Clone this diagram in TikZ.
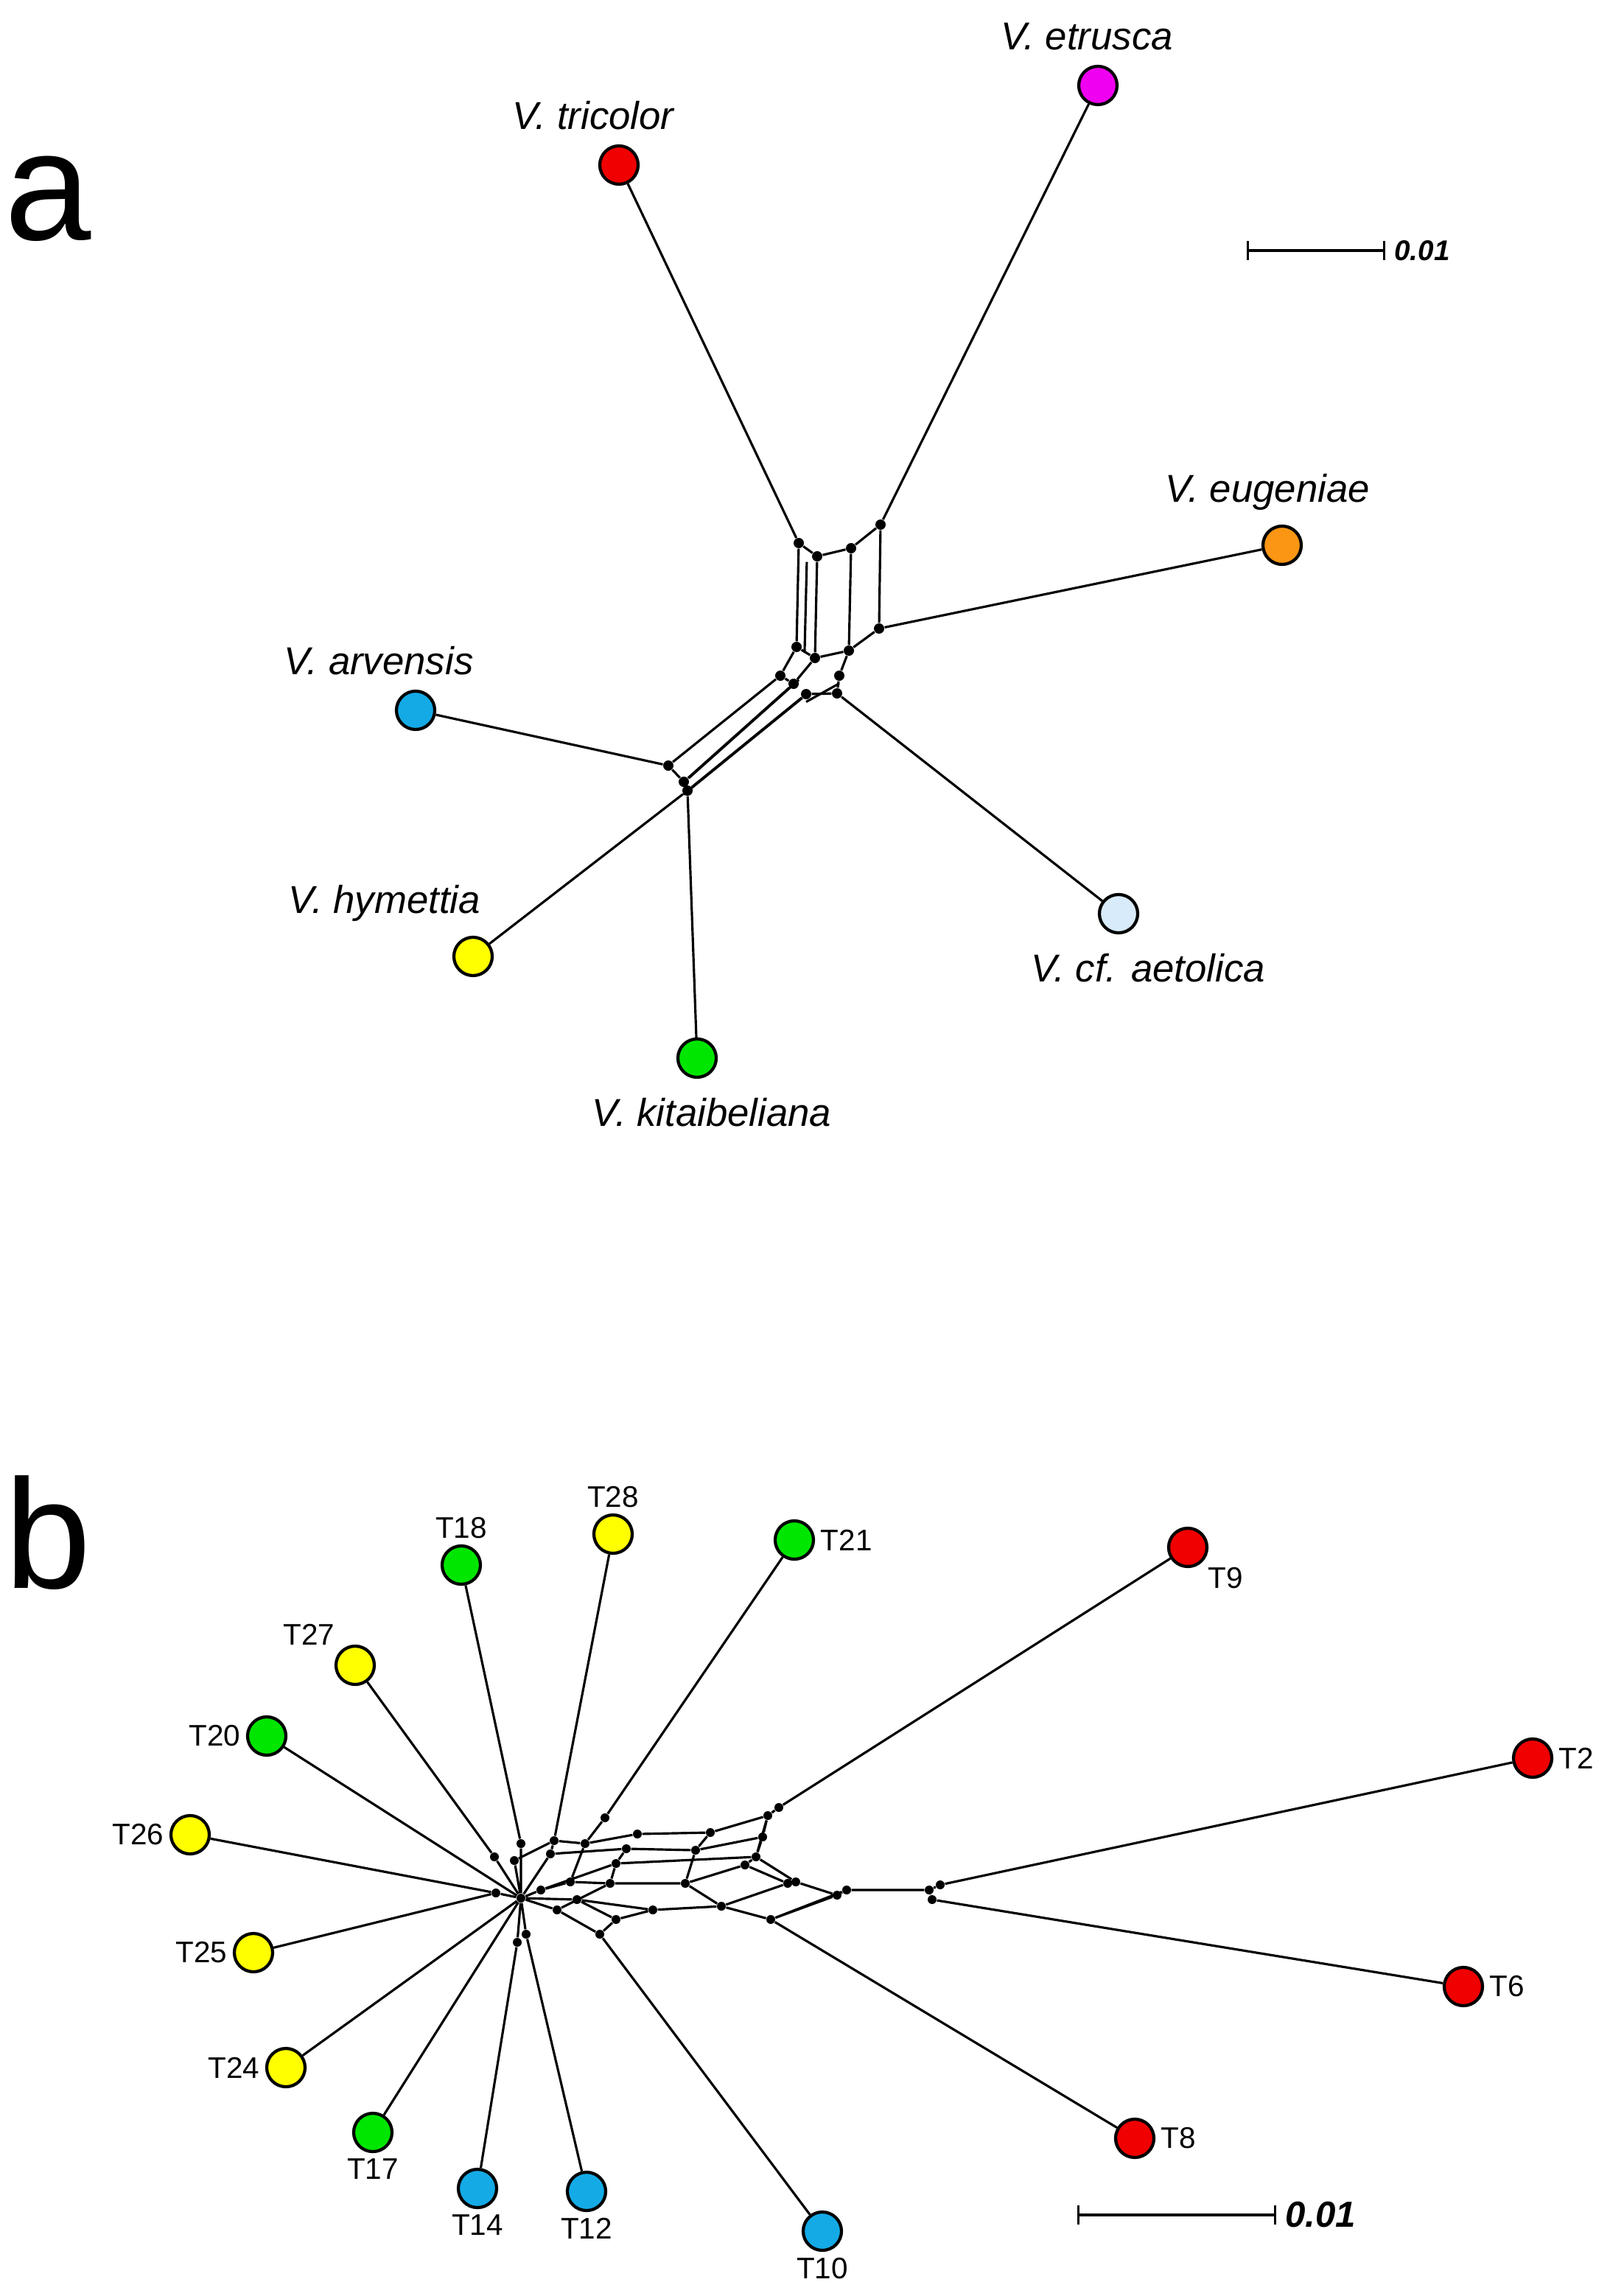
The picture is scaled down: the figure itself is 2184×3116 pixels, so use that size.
\documentclass[tikz,border=0pt]{standalone}
\usepackage{fontspec}
\setmainfont{Liberation Sans}
\usetikzlibrary{positioning}
\begin{document}
\begin{tikzpicture}
[
x=0.01cm,y=-0.01cm,
taxon/.style 2 args={draw,circle,line width=1.2pt,minimum size=0.52cm,inner sep=0pt,fill=#1,label={#2}},
dot/.style={circle,fill=black,inner sep=0pt,minimum size=0.14cm},
species/.style={font=\fontsize{15}{17}\selectfont\itshape},
tag/.style={font=\fontsize{11.5}{13}\selectfont},
edge/.style={line width=0.9pt},
]
\useasboundingbox (0,0) rectangle (2184,3116);
\definecolor{tred}{RGB}{240,0,0}
\definecolor{tmag}{RGB}{240,0,240}
\definecolor{torg}{RGB}{250,150,20}
\definecolor{tblue}{RGB}{20,170,230}
\definecolor{tpale}{RGB}{215,235,250}
\definecolor{tyel}{RGB}{255,255,0}
\definecolor{tgrn}{RGB}{0,230,0}

%Panel a
\node[font=\fontsize{60}{60}\selectfont] (pa) at (65,270) {a};
\node[taxon={tred}{}] (tri) at (840,224) {};
\node[species,above=2pt of tri,xshift=-0.35cm] (ltri) {V. tricolor};
\node[taxon={tmag}{}] (etr) at (1490,116) {};
\node[species,above=2pt of etr,xshift=-0.15cm] (letr) {V. etrusca};
\node[taxon={torg}{}] (eug) at (1740,740) {};
\node[species,above=2pt of eug,xshift=-0.2cm] (leug) {V. eugeniae};
\node[taxon={tblue}{}] (arv) at (564,964) {};
\node[species,above=2pt of arv,xshift=-0.5cm] (larv) {V. arvensis};
\node[taxon={tyel}{}] (hym) at (642,1298) {};
\node[species,above=2pt of hym,xshift=-1.2cm] (lhym) {V. hymettia};
\node[taxon={tgrn}{}] (kit) at (946,1436) {};
\node[species,below=4pt of kit,xshift=0.2cm] (lkit) {V. kitaibeliana};
\node[taxon={tpale}{}] (aet) at (1518,1240) {};
\node[species,below=4pt of aet,xshift=0.4cm] (laet) {V. cf. aetolica};

%Splits of panel a
\foreach \n/\x/\y in {A/1084/737,B/1109/755,C/1155/744,D/1195/712,E/1193/853,F/1152/883,
  G/1106/893,H/1081/878,I/1059/917,J/1077/928,K/1139/917,L/1136/941,M/1094/942,
  N/907/1039,O/928/1061,P/933/1073}
  \node[dot] (\n) at (\x,\y) {};
\draw[edge] (tri) -- (A) (etr) -- (D) (eug) -- (E) (aet) -- (L) (arv) -- (N)
  (hym) -- (P) (kit) -- (P);
\draw[edge] (A) -- (B) -- (C) -- (D) (A) -- (H) (B) -- (G) (C) -- (F) (D) -- (E)
  (E) -- (F) -- (G) -- (H) (H) -- (I) -- (N) (N) -- (O) -- (P) (F) -- (K) -- (L) -- (M)
  (G) -- (J) (I) -- (J);
\draw[edge] ([xshift=-4pt]B.south) -- ([xshift=-4pt]G.north);
\draw[edge] (J) -- (O) ([shift={(2pt,1.5pt)}]J.center) -- ([shift={(2pt,1.5pt)}]O.center)
  (M) -- (P) ([shift={(-1.5pt,-1.5pt)}]M.center) -- ([shift={(-1.5pt,-1.5pt)}]P.center)
  ([yshift=-3pt]K.center) -- ([yshift=-3pt]M.center);

%Scale bar a
\coordinate (sa1) at (1692,340);
\coordinate (sa2) at (1880,340);
\draw[edge,|-|] (sa1) -- (sa2);
\node[font=\fontsize{11}{12}\selectfont\bfseries\itshape,right=0pt of sa2] (na) {0.01};

%Panel b
\node[font=\fontsize{60}{60}\selectfont] (pb) at (65,2080) {b};
\foreach \n/\c/\x/\y/\pos in {18/tgrn/626/2124/above,28/tyel/832/2082/above,21/tgrn/1078/2090/right,
  9/tred/1612/2100/below right,2/tred/2080/2386/right,6/tred/1986/2696/right,8/tred/1540/2902/right,
  10/tblue/1116/3028/below,12/tblue/796/2974/below,14/tblue/648/2970/below,17/tgrn/506/2894/below,
  24/tyel/388/2806/left,25/tyel/344/2650/left,26/tyel/258/2490/left,20/tgrn/362/2356/left,27/tyel/482/2260/above left}
  \node[taxon={\c}{[tag,inner sep=2pt]\pos:T\n}] (T\n) at (\x,\y) {};

%Splits of panel b
\begin{scope}[shift={(0,-18)}]
\foreach \n/\x/\y in {hub/707/2594,n1/673/2587,n2/698/2543,n3/707/2520,n4/752/2516,n5/747/2534,
  n6/794/2520,n7/821/2485,n8/865/2507,n9/964/2505,n10/1042/2482,n11/1057/2471,n12/850/2527,
  n13/944/2529,n14/1035/2511,n15/836/2547,n16/1026/2538,n17/1011/2549,n18/828/2574,n19/930/2574,
  n20/774/2572,n21/734/2583,n22/1069/2574,n23/1080/2572,n24/1136/2590,n25/1149/2583,n26/1261/2583,
  n27/1276/2576,n28/1265/2596,n29/979/2605,n30/886/2610,n31/1046/2623,n32/836/2623,n33/814/2643,
  n34/783/2596,n35/756/2610,n36/714/2643,n37/702/2654,n38/671/2538}
  \node[dot,minimum size=0.12cm] (\n) at (\x,\y) {};
\end{scope}
\draw[edge] (T18) -- (n3) (T28) -- (n4) (T21) -- (n7) (T9) -- (n11) (T2) -- (n27)
  (T6) -- (n28) (T8) -- (n31) (T10) -- (n33) (T12) -- (n36) (T14) -- (n37)
  (T17) -- (hub) (T24) -- (hub) (T25) -- (n1) (T26) -- (n1) (T20) -- (hub) (T27) -- (n38);
\draw[edge] (n3) -- (hub) (n38) -- (hub) (n2) -- (hub) (n1) -- (hub) (n36) -- (hub) (n37) -- (hub)
  (n4) -- (n5) -- (hub) (n4) -- (n6) -- (n8) -- (n9) -- (n10) -- (n11) (n7) -- (n6)
  (n5) -- (n12) -- (n13) -- (n14) -- (n10) (n2) -- (n4)
  (n21) -- (n15) -- (n16) (n21) -- (n20) -- (n18) -- (n19) -- (n17) -- (n16) -- (n14)
  (n17) -- (n22) -- (n23) -- (n24) -- (n25) -- (n26) -- (n27) (n26) -- (n28)
  (n6) -- (n20) (n12) -- (n15) -- (n18) (n9) -- (n13) -- (n19) -- (n29) (n16) -- (n23)
  (hub) -- (n21) (hub) -- (n34) -- (n32) -- (n30) -- (n29) -- (n31) -- (n24)
  (hub) -- (n35) -- (n33) -- (n32) (n35) -- (n18) (n34) -- (n30) (n29) -- (n22)
  (n31) -- (n25) (n10) -- (n16);

%Scale bar b
\coordinate (sb1) at (1462,3006);
\coordinate (sb2) at (1732,3006);
\draw[edge,|-|] (sb1) -- (sb2);
\node[font=\fontsize{14}{15}\selectfont\bfseries\itshape,right=0pt of sb2] (nb) {0.01};
\end{tikzpicture}
\end{document}
